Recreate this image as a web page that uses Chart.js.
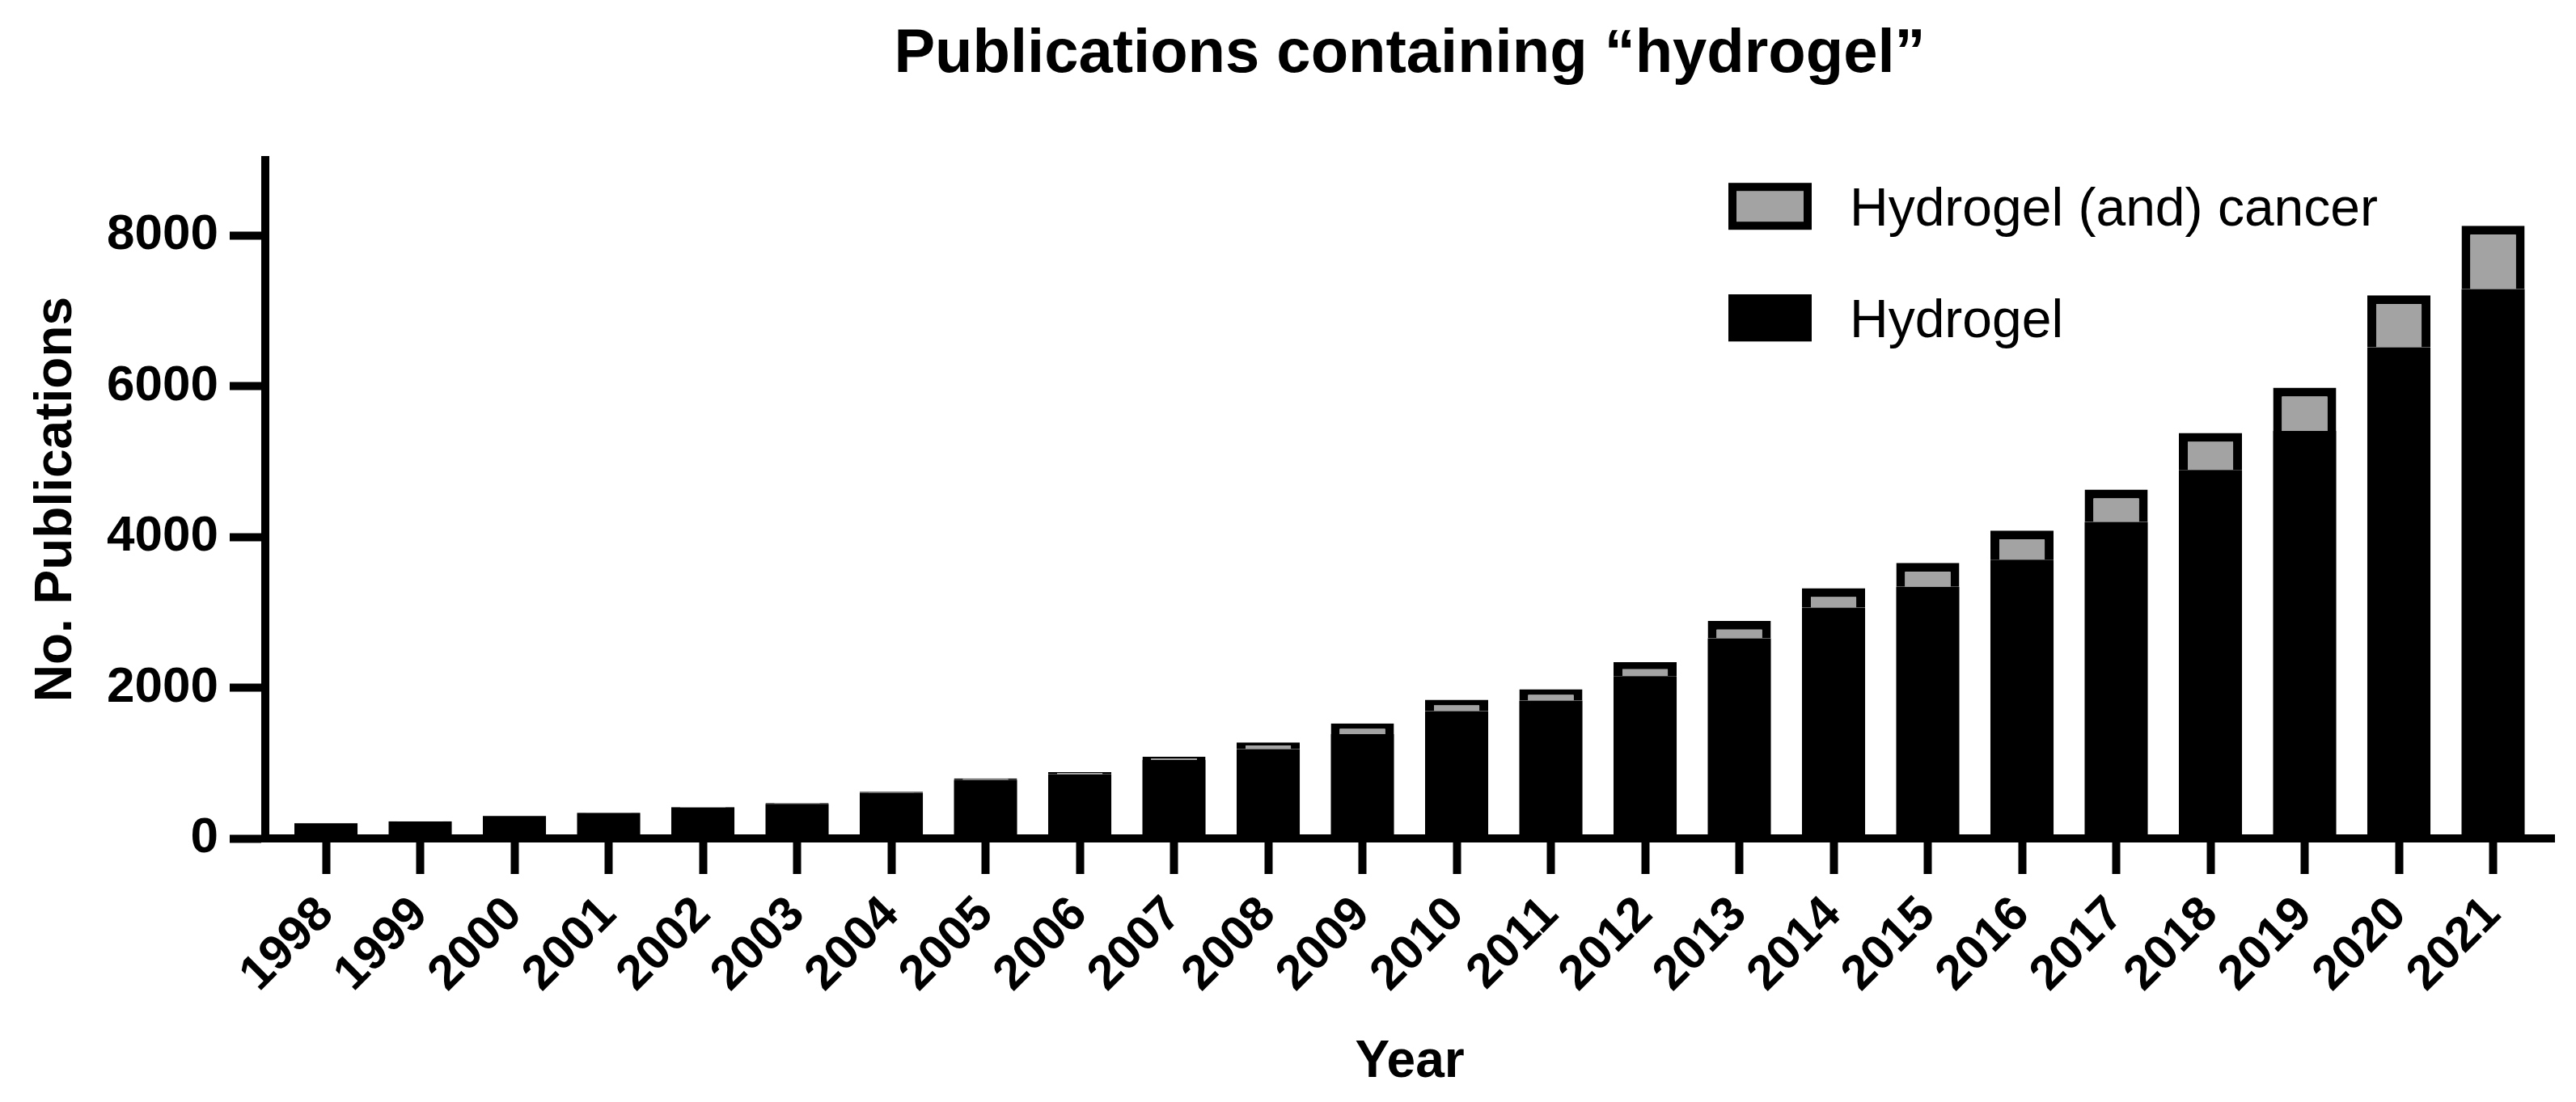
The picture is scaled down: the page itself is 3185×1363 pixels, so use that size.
<!DOCTYPE html>
<html>
<head>
<meta charset="utf-8">
<title>Publications containing “hydrogel”</title>
<script src="https://cdn.jsdelivr.net/npm/chart.js@4.4.1/dist/chart.umd.min.js"></script>
<style>
    html, body { margin: 0; padding: 0; background: #fff; }
    #wrap { width: 3185px; height: 1363px; }
</style>
</head>
<body>
<div id="wrap"><canvas id="hydrogelChart" width="3185" height="1363"></canvas></div>
<script>
// Values (publications per year)
const years = [1998, 1999, 2000, 2001, 2002, 2003, 2004, 2005, 2006, 2007, 2008, 2009,
               2010, 2011, 2012, 2013, 2014, 2015, 2016, 2017, 2018, 2019, 2020, 2021];
const hydrogel = [202, 226, 297, 339, 407, 459, 605, 776, 851, 1040, 1185, 1385,
                  1690, 1830, 2153, 2656, 3062, 3340, 3700, 4200, 4891, 5408, 6517, 7291];
const hydrogelCancer = [2, 3, 4, 5, 8, 10, 15, 22, 30, 45, 90, 140,
                        150, 150, 185, 230, 260, 315, 385, 430, 490, 575, 690, 840];
const yTicks = [0, 2000, 4000, 6000, 8000];

const FONT = "'Liberation Sans', Arial, Helvetica, sans-serif";
Chart.defaults.font.family = FONT;
Chart.defaults.color = '#000';

// Legend drawn inside the plot area, top right, in reversed dataset order
const insideLegend = {
    id: 'insideLegend',
    afterDraw(chart, args, opts) {
        const ctx = chart.ctx;
        const area = chart.chartArea;
        const items = chart.data.datasets.slice().reverse();
        ctx.save();
        ctx.font = opts.fontSize + 'px ' + FONT;
        ctx.textBaseline = 'alphabetic';
        items.forEach((ds, i) => {
            const x = area.left + opts.left;
            const cy = area.top + opts.firstRow + i * opts.rowGap;
            const y = cy - opts.boxH / 2;
            ctx.fillStyle = ds.borderColor;
            ctx.fillRect(x, y, opts.boxW, opts.boxH);
            const b = ds.borderWidth ? opts.boxBorder : 0;
            ctx.fillStyle = ds.backgroundColor;
            ctx.fillRect(x + b, y + b, opts.boxW - 2 * b, opts.boxH - 2 * b);
            ctx.fillStyle = '#000';
            ctx.fillText(ds.label, x + opts.boxW + opts.gap, cy + opts.baseline);
        });
        ctx.restore();
    }
};

function renderChart() {
    const ctx = document.getElementById('hydrogelChart').getContext('2d');

    new Chart(ctx, {
        type: 'bar',
        data: {
            datasets: [
                {
                    label: 'Hydrogel',
                    data: hydrogel.map((v, i) => ({ x: years[i], y: v })),
                    backgroundColor: '#000000',
                    borderColor: '#000000',
                    borderWidth: 0,
                    barPercentage: 0.67,
                    categoryPercentage: 1.0
                },
                {
                    label: 'Hydrogel (and) cancer',
                    data: hydrogelCancer.map((v, i) => ({ x: years[i], y: v })),
                    backgroundColor: '#a3a3a3',
                    borderColor: '#000000',
                    borderWidth: 11,
                    barPercentage: 0.67,
                    categoryPercentage: 1.0
                }
            ]
        },
        plugins: [insideLegend],
        options: {
            responsive: false,
            animation: false,
            layout: { padding: { left: 0, right: 27, top: 0, bottom: 0 } },
            plugins: {
                legend: { display: false },
                tooltip: { enabled: false },
                title: {
                    display: true,
                    fullSize: false,
                    text: 'Publications containing “hydrogel”',
                    color: '#000',
                    font: { size: 76, weight: 'bold' },
                    padding: { top: 22, bottom: 85 }
                },
                insideLegend: {
                    left: 1809, firstRow: 57, rowGap: 138,
                    boxW: 103, boxH: 58, boxBorder: 10, gap: 47,
                    fontSize: 66, baseline: 24
                }
            },
            scales: {
                x: {
                    type: 'linear',
                    stacked: true,
                    offset: false,
                    min: 1997.356,
                    max: 2021.648,
                    afterBuildTicks: axis => { axis.ticks = years.map(v => ({ value: v })); },
                    afterFit: scale => { scale.height = 326; },
                    ticks: {
                        autoSkip: false,
                        minRotation: 45,
                        maxRotation: 45,
                        padding: 15,
                        color: '#000',
                        font: { size: 60, weight: 'bold' },
                        callback: value => String(value)
                    },
                    grid: {
                        offset: false,
                        drawOnChartArea: false,
                        tickLength: 44,
                        tickWidth: 10,
                        tickColor: '#000'
                    },
                    border: { display: true, color: '#000', width: 10 },
                    title: {
                        display: true,
                        text: 'Year',
                        color: '#000',
                        font: { size: 64, weight: 'bold' },
                        padding: { top: 0, bottom: 10 }
                    }
                },
                y: {
                    stacked: true,
                    min: 0,
                    max: 9000,
                    afterBuildTicks: axis => { axis.ticks = yTicks.map(v => ({ value: v })); },
                    afterFit: scale => { scale.width = 328; },
                    ticks: {
                        padding: 14,
                        color: '#000',
                        font: { size: 62, weight: 'bold' },
                        callback: value => String(value)
                    },
                    grid: {
                        drawOnChartArea: false,
                        tickLength: 44,
                        tickWidth: 10,
                        tickColor: '#000'
                    },
                    border: { display: true, color: '#000', width: 10 },
                    title: {
                        display: true,
                        text: 'No. Publications',
                        color: '#000',
                        font: { size: 64, weight: 'bold' },
                        padding: { top: 32, bottom: 0 }
                    }
                }
            }
        }
    });
}

renderChart();
</script>
</body>
</html>
